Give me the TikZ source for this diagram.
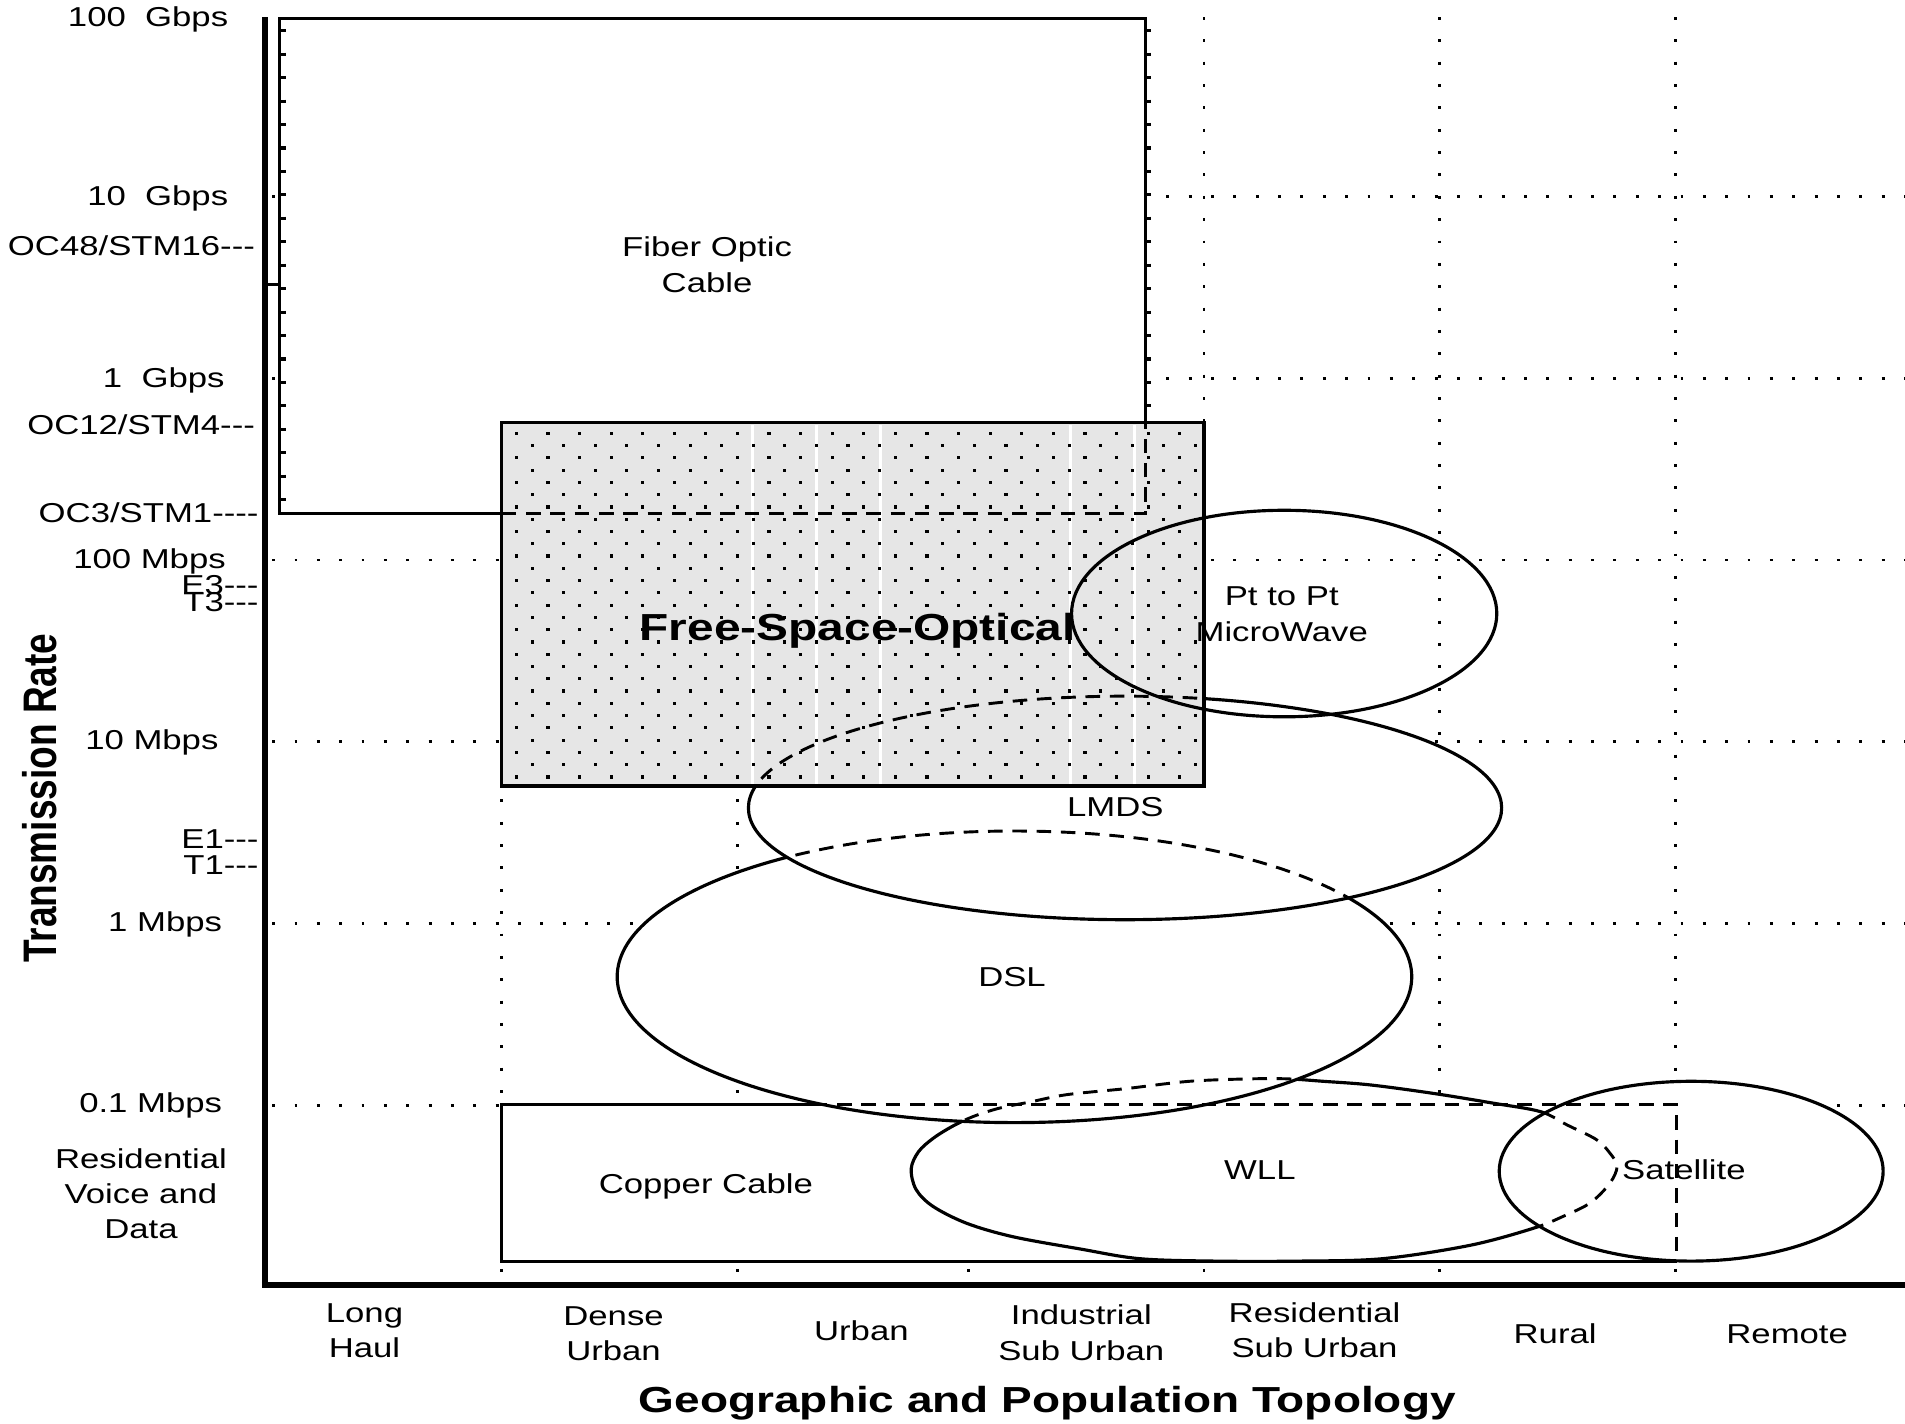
\documentclass[tikz,border=0pt]{standalone}
\usepackage{fontspec}
\setmainfont{Liberation Sans}[FakeStretch=1.27]
\newfontfamily\plainsans{Liberation Sans}
\newcommand\tdash{-\kern0pt}
\definecolor{fsogray}{RGB}{230,230,230}
\begin{document}
\begin{tikzpicture}[x=1pt,y=-1pt,
  base/.style={inner sep=0pt, font=\fontsize{22.5}{29}\selectfont},
  rl/.style={base, anchor=east, text height=16pt, text depth=0pt},
  cl/.style={base, anchor=center, text height=16pt, text depth=0pt},
  ml/.style={base, anchor=north, align=center},
  gridln/.style={line width=2.4pt, dash pattern=on 2.4pt off 16pt},
  solidln/.style={line width=2.6pt},
  hiddenln/.style={line width=2.4pt, dash pattern=on 12pt off 8pt},
  axisln/.style={line width=5pt},
  tickdots/.style={line width=4pt, dash pattern=on 2.6pt off 16.7pt}
]
\useasboundingbox (0,0) rectangle (1568,1172);
\def\FSOpath{(413,348) rectangle (991,647)}
\def\LMDSpath{(926,665) ellipse [x radius=310pt, y radius=92pt]}
\def\DSLpath{(835,804) ellipse [x radius=327pt, y radius=120pt]}
\def\SATpath{(1392,964) ellipse [x radius=158pt, y radius=74pt]}
\def\PTpath{(1057,505) ellipse [x radius=175pt, y radius=85pt]}
\def\WLLpath{plot[smooth cycle, tension=0.55] coordinates {(750,962) (754,979) (768,993) (796,1007) (834,1018) (889,1028) (938,1036) (1000,1038) (1070,1038) (1138,1036) (1210,1025) (1262,1011) (1287,1001) (1309,990) (1325,974) (1331,960) (1325,949) (1314,938) (1290,926) (1268,915) (1229,908) (1180,900) (1128,893) (1089,890) (1060,888) (1029,888) (979,890) (927,896) (878,901) (848,907) (823,912) (801,919) (784,927) (768,937) (756,948)}}

% grid
\foreach \yy in {161.5,311.2,460.9,610.6,760.3,910}
  \draw[gridln] (224,\yy) -- (1568,\yy);
\foreach \xx in {413,607,797,991,1185,1379}
  \draw[gridln] (\xx,14) -- (\xx,1052);

% fills
\fill[white] (230,15) rectangle (943,423);
\fill[white] (413,906) rectangle (1380,1038);
\fill[white] \WLLpath;
\fill[white] \SATpath;
\fill[white] \DSLpath;
\fill[white] \LMDSpath;
\fill[fsogray] \FSOpath;

% FSO texture
\foreach \sx in {619,672,725,881,934}
  \draw[white, line width=2.5pt] (\sx,350) -- (\sx,645);
\foreach \j in {0,...,28}{
  \foreach \i in {0,...,21}{
    \fill ({425+13*mod(\j,2)+26*\i-1.3},{356.7+10.1*\j-1.3}) rectangle +(2.6,2.6);
  }
}

% fiber edge ticks
\draw[tickdots] (233,24) -- (233,420);
\draw[tickdots] (945.5,24) -- (945.5,346);

% fiber optic box
\draw[solidln] (943,348) -- (943,15) -- (230,15) -- (230,423) -- (413,423);
\draw[hiddenln] (413,423) -- (943,423) -- (943,348);

% FSO box
\draw[solidln] \FSOpath;

% Pt to Pt
\draw[solidln] \PTpath;

% LMDS
\begin{scope}
  \clip \FSOpath;
  \draw[hiddenln] \LMDSpath;
\end{scope}
\begin{scope}[even odd rule]
  \clip (-50,-50) rectangle (1650,1250) \FSOpath;
  \draw[solidln] \LMDSpath;
\end{scope}

% DSL
\begin{scope}
  \clip \LMDSpath;
  \draw[hiddenln] \DSLpath;
\end{scope}
\begin{scope}[even odd rule]
  \clip (-50,-50) rectangle (1650,1250) \LMDSpath;
  \draw[solidln] \DSLpath;
\end{scope}

% WLL
\begin{scope}
  \clip \DSLpath;
  \draw[hiddenln] \WLLpath;
\end{scope}
\begin{scope}
  \clip \SATpath;
  \draw[hiddenln] \WLLpath;
\end{scope}
\begin{scope}[even odd rule]
  \clip (-50,-50) rectangle (1650,1250) \DSLpath \SATpath;
  \draw[solidln] \WLLpath;
\end{scope}

% Satellite
\draw[solidln] \SATpath;

% Copper box
\draw[solidln] (669,909) -- (413,909) -- (413,1038) -- (1380,1038);
\draw[hiddenln] (669,909) -- (1380,909) -- (1380,1038);

% axes
\draw[axisln] (218,14) -- (218,1060.5);
\draw[axisln] (215.5,1058) -- (1568,1058);
\draw[line width=2pt] (218,234) -- (231,234);

% y tick labels
\node[rl] (l100g) at (188,14) {100\ \ Gbps};
\node[rl] (l10g) at (188,161) {10\ \ Gbps};
\node[rl] (loc48) at (210,202) {OC48/STM16\tdash\tdash\tdash};
\node[rl] (l1g) at (185,311) {1\ \ Gbps};
\node[rl] (loc12) at (210,350) {OC12/STM4\tdash\tdash\tdash};
\node[rl] (loc3) at (213,422) {OC3/STM1\tdash\tdash\tdash\tdash};
\node[rl] (l100m) at (186,460) {100 Mbps};
\node[rl] (le3) at (213,481) {E3\tdash\tdash\tdash};
\node[rl] (lt3) at (213,495) {T3\tdash\tdash\tdash};
\node[rl] (l10m) at (180,609) {10 Mbps};
\node[rl] (le1) at (213,690) {E1\tdash\tdash\tdash};
\node[rl] (lt1) at (213,712) {T1\tdash\tdash\tdash};
\node[rl] (l1m) at (183,759) {1 Mbps};
\node[rl] (l01m) at (183,908) {0.1 Mbps};
\node[ml] (lres) at (116,945) {Residential\\Voice and\\Data};

% x labels
\node[ml] (xlong) at (300,1073) {Long\\Haul};
\node[ml] (xdense) at (505,1075) {Dense\\Urban};
\node[cl] (xurban) at (709,1095) {Urban};
\node[ml] (xind) at (890,1074) {Industrial\\Sub Urban};
\node[ml] (xres) at (1082,1072) {Residential\\Sub Urban};
\node[cl] (xrural) at (1280,1098) {Rural};
\node[cl] (xremote) at (1471,1098) {Remote};

% titles
\node[cl, font=\bfseries\fontsize{29.8}{34}\selectfont, text height=21pt] (xtitle) at (862,1152) {Geographic and Population Topology};
\node[rotate=90, inner sep=0pt, font=\plainsans\bfseries\fontsize{30.5}{34}\selectfont] (ytitle) at (33,657) {\scalebox{1}[1.27]{Transmission Rate}};

% region labels
\node[ml] (tfiber) at (582,195) {Fiber Optic\\Cable};
\node[cl, font=\bfseries\fontsize{31}{34}\selectfont, text height=22pt] (tfso) at (706,516) {Free-Space-Optical};
\node[ml] (tpt) at (1055,483) {Pt to Pt\\MicroWave};
\node[cl] (tlmds) at (918,664) {LMDS};
\node[cl] (tdsl) at (833,804) {DSL};
\node[cl] (tcopper) at (581,974) {Copper Cable};
\node[cl] (twll) at (1037,963) {WLL};
\node[cl] (tsat) at (1386,963) {Satellite};
\end{tikzpicture}
\end{document}
